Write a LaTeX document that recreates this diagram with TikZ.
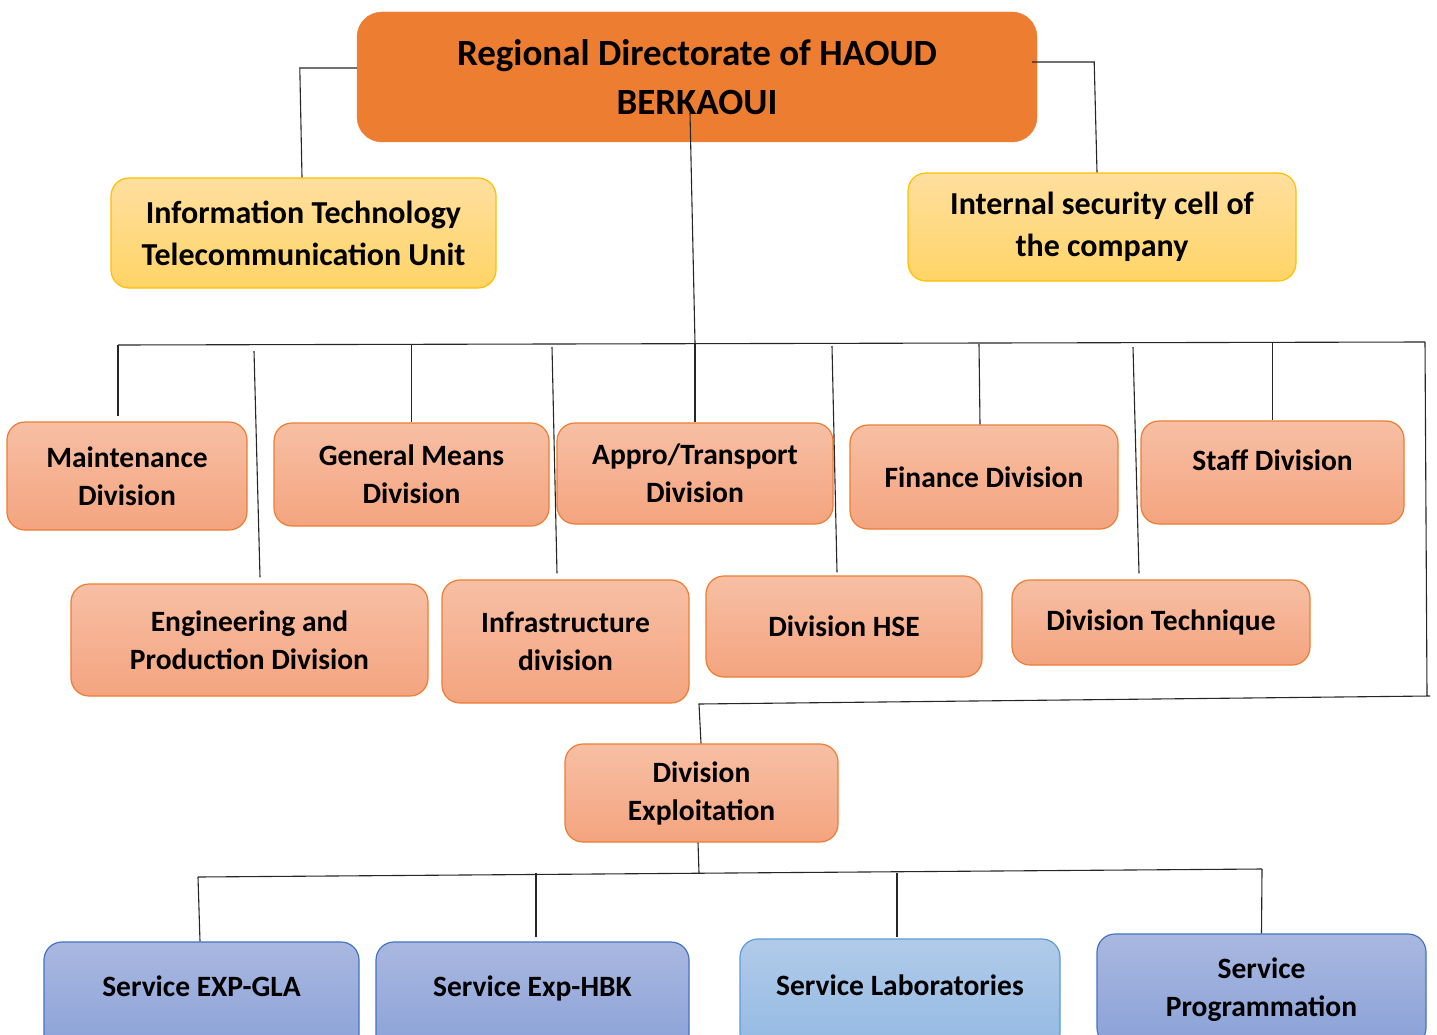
\documentclass[tikz,border=0pt]{standalone}
\usepackage{fontspec}
\setmainfont{Carlito}
\usepackage{tikz}
\usetikzlibrary{positioning}

\definecolor{headorange}{HTML}{ED7D31}
\definecolor{unittop}{HTML}{FFDF9F}
\definecolor{unitbot}{HTML}{FFD466}
\definecolor{unitline}{HTML}{FFC000}
\definecolor{divtop}{HTML}{F7BFA4}
\definecolor{divbot}{HTML}{F4A47F}
\definecolor{servtop}{HTML}{A9B8E0}
\definecolor{servbot}{HTML}{8AA1D7}
\definecolor{servline}{HTML}{4472C4}
\definecolor{labtop}{HTML}{B1CBE9}
\definecolor{labbot}{HTML}{92B9E3}
\definecolor{labline}{HTML}{5B9BD5}

\begin{document}
\begin{tikzpicture}[x=1pt,y=-1pt,
  head/.style={fill=headorange,draw=headorange,rounded corners=25pt,
    font=\fontsize{37}{49}\selectfont\bfseries},
  unit/.style={draw=unitline,line width=1.2pt,top color=unittop,bottom color=unitbot,
    rounded corners=18pt,font=\fontsize{32}{42}\selectfont\bfseries},
  division/.style={draw=headorange,line width=1.2pt,top color=divtop,bottom color=divbot,
    rounded corners=18pt,font=\fontsize{29.5}{38}\selectfont\bfseries},
  service/.style={division,draw=servline,top color=servtop,bottom color=servbot},
  lab/.style={service,draw=labline,top color=labtop,bottom color=labbot},
  link/.style={line width=1.1pt,black!85},
  every node/.style={align=center,inner sep=0pt}]

  \useasboundingbox (0,0) rectangle (1437,1035);

  % top of the chart
  \node[head,minimum width=680pt,minimum height=130pt] (head) at (697,77)
    {Regional Directorate of HAOUD\\BERKAOUI};
  \node[unit,minimum width=385pt,minimum height=110pt] (it) at (303.5,233)
    {Information Technology\\Telecommunication Unit};
  \node[unit,minimum width=388pt,minimum height=108pt] (sec) at (1102,227)
    {Internal security cell of\\the company};

  % divisions
  \node[division,minimum width=240pt,minimum height=108pt] (maint) at (127,476)
    {Maintenance\\Division};
  \node[division,minimum width=275pt,minimum height=103pt] (means) at (411.5,474.5)
    {General Means\\Division};
  \node[division,minimum width=276pt,minimum height=101pt] (appro) at (695,473.5)
    {Appro/Transport\\Division};
  \node[division,minimum width=268pt,minimum height=104pt] (fin) at (984,477)
    {Finance Division};
  \node[division,minimum width=263pt,minimum height=103pt,text depth=24pt] (staff) at (1272.5,472.5)
    {Staff Division};
  \node[division,minimum width=357pt,minimum height=112pt] (eng) at (249.5,640)
    {Engineering and\\Production Division};
  \node[division,minimum width=247pt,minimum height=123pt] (infra) at (565.5,641.5)
    {Infrastructure\\division};
  \node[division,minimum width=276pt,minimum height=101pt] (hse) at (844,626.5)
    {Division HSE};
  \node[division,minimum width=298pt,minimum height=85pt] (tech) at (1161,622.5)
    {Division Technique};
  \node[division,minimum width=273pt,minimum height=98pt] (expl) at (701.5,793)
    {Division\\Exploitation};

  % services
  \node[service,minimum width=315pt,minimum height=112pt,text depth=24pt] (gla) at (201.5,998)
    {Service EXP-GLA};
  \node[service,minimum width=313pt,minimum height=112pt,text depth=24pt] (hbk) at (532.5,998)
    {Service Exp-HBK};
  \node[lab,minimum width=320pt,minimum height=112pt,text depth=20pt] (labs) at (900,995)
    {Service Laboratories};
  \node[service,minimum width=329pt,minimum height=112pt] (prog) at (1261.5,990)
    {Service\\Programmation};

  % bus ends
  \coordinate (busL) at (118,345);
  \coordinate (busR) at (1425,342);
  \coordinate (busA) at (695,343);
  \coordinate (engT) at (254,351);
  \coordinate (infraT) at (552,347);
  \coordinate (hseT) at (832,346);
  \coordinate (techT) at (1133,347);
  \coordinate (rC) at (1430,696);
  \coordinate (rL) at (699,704);
  \coordinate (sbusL) at (198,877);
  \coordinate (sbusR) at (1262,869);
  \coordinate (sbusA) at (699,873);

  \draw[link] ([yshift=9pt]head.west) -- ++(-57,0) -- ([xshift=-1.5pt]it.north);
  \draw[link] ([xshift=-5pt,yshift=15pt]head.east) -- ++(62,0) -- ([xshift=-5pt]sec.north);
  \draw[link] ([xshift=-7pt,yshift=-36pt]head.center) -- (busA);
  \draw[link] (busL) -- (busR);

  \draw[link] (busL) -- ([xshift=-9pt,yshift=5pt]maint.north);
  \draw[link] (engT) -- ([xshift=10.5pt,yshift=6pt]eng.north);
  \draw[link] (means.north |- busL) -- (means.north);
  \draw[link] (infraT) -- ([xshift=-8.5pt,yshift=6pt]infra.north);
  \draw[link] (busA) -- (appro.north);
  \draw[link] (hseT) -- ([xshift=-7pt,yshift=3pt]hse.north);
  \draw[link] (979,344) -- ([xshift=-4pt]fin.north);
  \draw[link] (techT) -- ([xshift=-22pt,yshift=6pt]tech.north);
  \draw[link] (staff.north |- busR) -- (staff.north);

  \draw[link] (busR) -- (1427,696) -- (rC) -- (rL) -- ([xshift=-0.5pt]expl.north);
  \draw[link] ([xshift=-3.5pt]expl.south) -- (sbusA);
  \draw[link] (sbusL) -- (sbusR);
  \draw[link] (sbusL) -- ([xshift=-1.5pt]gla.north);
  \draw[link] (536,873) -- ([xshift=3.5pt,yshift=4pt]hbk.north);
  \draw[link] (897,873) -- ([xshift=-3pt,yshift=1pt]labs.north);
  \draw[link] (sbusR) -- (prog.north);
\end{tikzpicture}
\end{document}
